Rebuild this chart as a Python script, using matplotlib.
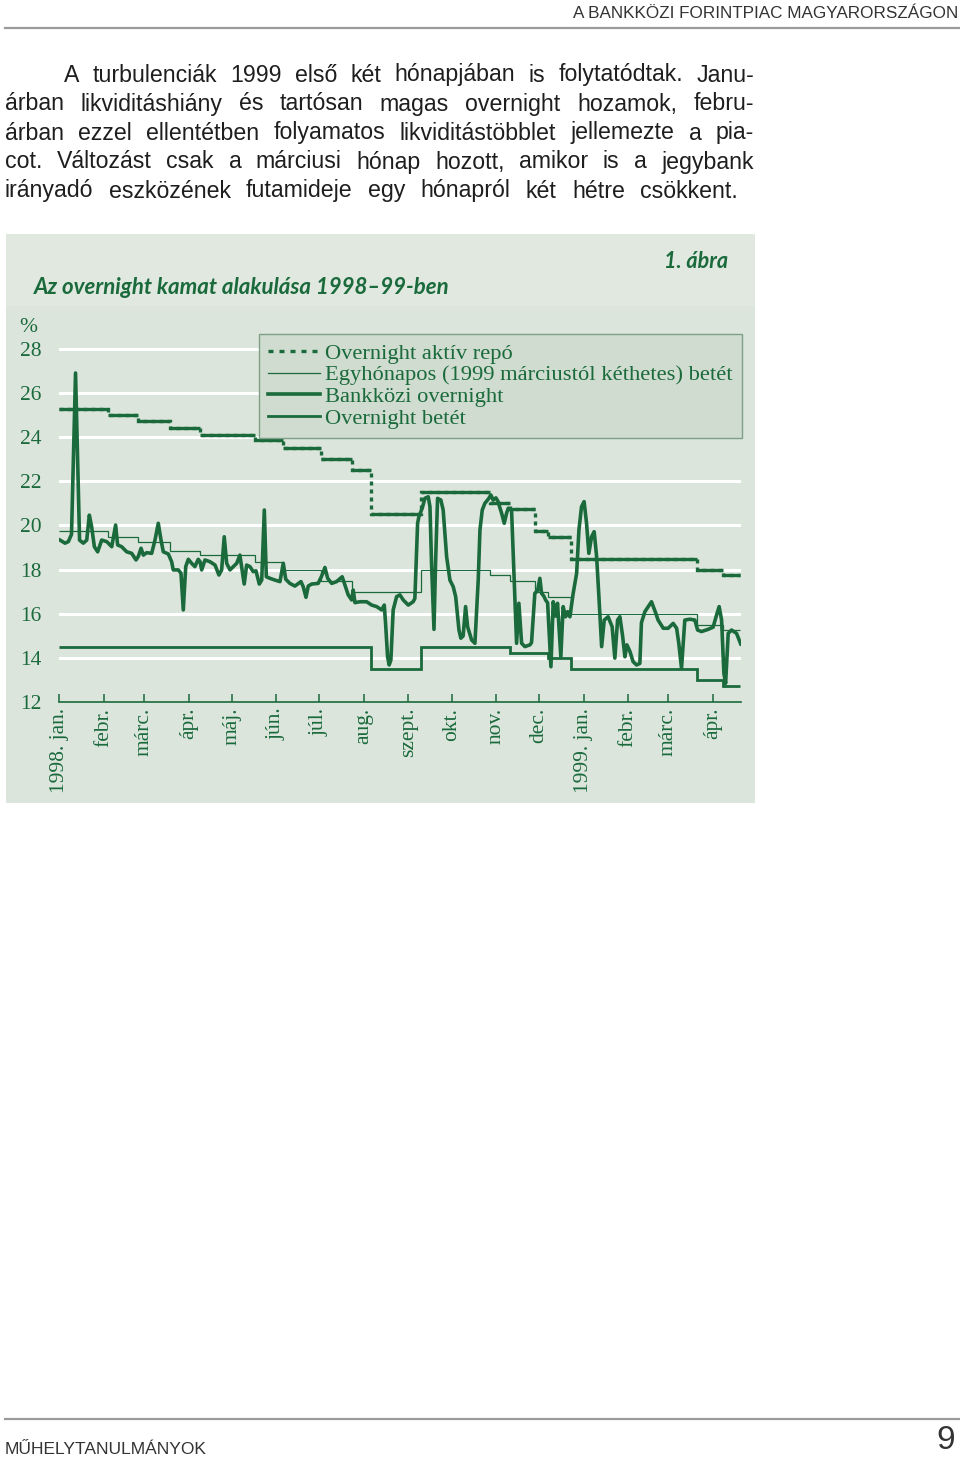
import matplotlib
matplotlib.use('Agg')
import matplotlib.pyplot as plt
from matplotlib import font_manager
from matplotlib.lines import Line2D
from matplotlib.patches import Rectangle

# --- data (days counted from 1998-01-01, rates in %) ---
month_days = [0, 31, 59, 90, 120, 151, 181, 212, 243, 273, 304, 334, 365, 396, 424, 455]
month_labels = ['1998. jan.', 'febr.', 'márc.', 'ápr.', 'máj.', 'jún.', 'júl.', 'aug.',
                'szept.', 'okt.', 'nov.', 'dec.', '1999. jan.', 'febr.', 'márc.', 'ápr.']

repo_edges = [0, 34, 55, 77, 98, 136, 156, 182, 204, 217, 252, 300, 314, 331, 340, 356, 444, 462, 474]
repo_rate = [25.25, 25.0, 24.75, 24.4, 24.1, 23.85, 23.5, 23.0, 22.5, 20.5, 21.5, 21.0,
             20.75, 19.75, 19.5, 18.5, 18.0, 17.75]

depo1m_edges = [0, 34, 55, 77, 98, 136, 156, 182, 204, 252, 300, 314, 331, 340, 356, 444, 462, 474]
depo1m_rate = [19.75, 19.5, 19.25, 18.85, 18.65, 18.35, 18.0, 17.5, 17.0, 18.0, 17.75, 17.5,
               17.0, 16.75, 16.0, 15.5, 15.25]

ondepo_edges = [0, 217, 252, 314, 340, 356, 444, 462, 474]
ondepo_rate = [14.5, 13.5, 14.5, 14.25, 14.0, 13.5, 13.0, 12.75]

bank_day = [0.5, 4.0, 6.3, 8.5, 11.3, 14.1, 16.7, 19.1, 20.9, 22.5, 24.4, 26.7, 29.5, 33.0,
            36.5, 39.2, 40.6, 43.4, 46.9, 50.4, 53.4, 55.0, 56.9, 58.5, 60.8, 64.3, 66.6,
            68.9, 70.8, 72.4, 75.9, 78.2, 79.3, 82.8, 84.7, 86.3, 88.0, 89.8, 92.1, 94.4,
            96.7, 98.0, 99.1, 101.4, 104.9, 108.4, 111.1, 113.0, 114.8, 116.5, 118.8, 121.1,
            123.5, 125.7, 127.6, 128.7, 130.4, 132.7, 135.0, 136.9, 139.2, 140.9, 142.7,
            144.1, 146.6, 150.1, 153.6, 155.9, 157.6, 160.5, 164.0, 168.2, 169.8, 171.7,
            173.3, 175.6, 180.2, 182.6, 184.9, 186.8, 189.6, 193.0, 196.9, 198.8, 201.1,
            203.5, 204.6, 205.8, 209.3, 213.9, 217.4, 220.9, 224.4, 226.2, 227.1, 228.5,
            229.6, 230.8, 232.4, 234.8, 237.1, 239.4, 242.9, 246.3, 247.5, 249.4, 250.3,
            252.6, 254.5, 256.8, 258.0, 259.1, 260.8, 261.9, 263.3, 265.6, 267.2, 269.6,
            271.9, 274.2, 275.9, 278.2, 279.5, 281.1, 282.8, 284.2, 287.0, 289.3, 291.6,
            292.8, 294.4, 296.2, 299.0, 300.4, 302.0, 303.9, 305.3, 307.9, 309.7, 311.3,
            312.5, 314.8, 316.6, 318.3, 319.9, 321.8, 324.1, 327.6, 328.7, 331.0, 332.9,
            334.5, 335.7, 337.3, 338.5, 339.9, 342.2, 343.8, 345.4, 346.8, 349.1, 350.7,
            352.4, 353.8, 355.4, 357.7, 360.1, 361.7, 363.5, 365.3, 367.0, 368.6, 370.5,
            372.3, 374.0, 375.6, 377.5, 379.3, 382.0, 384.8, 386.7, 388.6, 390.2, 392.1,
            393.7, 395.1, 397.2, 399.4, 401.8, 404.1, 405.2, 407.6, 412.2, 415.2, 416.8,
            420.4, 423.8, 427.3, 429.7, 431.2, 433.1, 435.4, 438.9, 442.4, 444.3, 447.0,
            451.6, 455.1, 457.5, 459.3, 461.0, 462.6, 463.8, 465.6, 467.9, 471.4, 474.3]
bank_rate = [19.34, 19.2, 19.27, 19.6, 26.9, 19.34, 19.2, 19.34, 20.47, 19.95, 19.04, 18.81,
             19.34, 19.27, 19.04, 20.02, 19.12, 19.04, 18.81, 18.74, 18.44, 18.6, 18.97,
             18.66, 18.77, 18.74, 19.34, 20.1, 19.34, 18.81, 18.71, 18.36, 17.99, 17.99,
             17.84, 16.18, 18.14, 18.47, 18.29, 18.14, 18.47, 18.36, 17.99, 18.44, 18.36,
             18.21, 17.76, 17.99, 19.49, 18.29, 17.99, 18.14, 18.29, 18.66, 17.84, 17.35,
             18.21, 18.14, 17.91, 17.95, 17.35, 17.53, 20.7, 17.68, 17.61, 17.53, 17.46,
             18.29, 17.57, 17.38, 17.26, 17.46, 17.23, 16.75, 17.26, 17.35, 17.38, 17.71,
             18.1, 17.61, 17.38, 17.46, 17.68, 17.31, 16.86, 16.63, 17.08, 16.51, 16.55,
             16.55, 16.4, 16.33, 16.18, 16.4, 15.57, 14.06, 13.69, 13.91, 16.18, 16.78,
             16.86, 16.63, 16.4, 16.55, 16.7, 20.1, 20.4, 20.78, 21.23, 21.3, 20.85, 18.29,
             15.3, 18.3, 21.23, 21.15, 20.7, 18.59, 17.53, 17.23, 16.78, 15.27, 14.9, 15.0,
             16.33, 15.42, 14.82, 14.67, 17.53, 19.8, 20.7, 21.0, 21.23, 21.38, 21.15, 21.25,
             21.1, 20.55, 20.1, 20.55, 20.78, 20.7, 17.53, 14.67, 16.48, 14.67, 14.52, 14.6,
             14.7, 16.93, 17.05, 17.61, 16.93, 16.8, 16.63, 16.5, 13.61, 16.55, 15.9, 16.48,
             14.06, 16.33, 15.87, 16.1, 15.87, 16.93, 17.84, 19.8, 20.85, 21.08, 20.1, 18.74,
             19.49, 19.72, 18.6, 16.78, 14.52, 15.72, 15.87, 15.42, 14.0, 15.72, 15.87, 15.0,
             14.06, 14.6, 14.3, 13.84, 13.69, 13.76, 15.6, 16.1, 16.55, 16.03, 15.72, 15.35,
             15.35, 15.57, 15.35, 14.67, 13.54, 15.72, 15.76, 15.72, 15.27, 15.2, 15.3, 15.4,
             15.95, 16.33, 15.72, 13.31, 12.86, 15.12, 15.27, 15.12, 14.64]

yticks = [12, 14, 16, 18, 20, 22, 24, 26, 28]
legend_labels = ['Overnight aktív repó', 'Egyhónapos (1999 márciustól kéthetes) betét',
                 'Bankközi overnight', 'Overnight betét']

body_lines = [
    'A turbulenciák 1999 első két hónapjában is folytatódtak. Janu-',
    'árban likviditáshiány és tartósan magas overnight hozamok, febru-',
    'árban ezzel ellentétben folyamatos likviditástöbblet jellemezte a pia-',
    'cot. Változást csak a márciusi hónap hozott, amikor is a jegybank',
    'irányadó eszközének futamideje egy hónapról két hétre csökkent.',
]
line_ends = [754, 754, 754, 754, 738]

GREEN = '#1a6a3c'
BG = '#dce5dc'
W, H = 960, 1458

installed = {f.name for f in font_manager.fontManager.ttflist}
narrow = 'Liberation Sans Narrow' if 'Liberation Sans Narrow' in installed else 'Liberation Sans'
serif = 'Liberation Serif'
titlefont = 'Lato' if 'Lato' in installed else 'DejaVu Sans'


def fx(px):
    return px / W


def fy(py):
    return 1 - py / H


fig = plt.figure(figsize=(W / 100, H / 100), dpi=100)
fig.patch.set_facecolor('white')
renderer = fig.canvas.get_renderer()


def text_width(s, size, family):
    t = fig.text(0, 0, s, fontsize=size, family=family)
    w = t.get_window_extent(renderer).width
    t.remove()
    return w


# header and footer rules
fig.add_artist(Line2D([fx(5), fx(960)], [fy(28), fy(28)], transform=fig.transFigure,
                      color='#9b9b9b', lw=1.6))
fig.add_artist(Line2D([fx(5), fx(960)], [fy(1419), fy(1419)], transform=fig.transFigure,
                      color='#9b9b9b', lw=1.6))
fig.text(fx(958), fy(14), 'A BANKKÖZI FORINTPIAC MAGYARORSZÁGON', ha='right', va='center',
         fontsize=12.3, family=narrow, color='#333333')
fig.text(fx(5), fy(1450), 'MŰHELYTANULMÁNYOK', ha='left', va='center',
         fontsize=12.5, family=narrow, color='#333333')
fig.text(fx(955), fy(1456), '9', ha='right', va='bottom', fontsize=24,
         family=narrow, color='#333333')

# body paragraph, justified word by word; size chosen so the longest line still fits
ref_size = 10
longest = max(text_width(l, ref_size, narrow) + (59 if i == 0 else 0)
              for i, l in enumerate(body_lines[:-1]))
body_size = min(17.5, ref_size * 735 / longest)
for i, line in enumerate(body_lines):
    y = 75 + i * 29
    x0 = 64 if i == 0 else 5
    words = line.split(' ')
    texts = [fig.text(0, fy(y), w, fontsize=body_size, family=narrow, color='#1e1e1e',
                      va='center', ha='left') for w in words]
    widths = [t.get_window_extent(renderer).width for t in texts]
    gap = (line_ends[i] - x0 - sum(widths)) / (len(words) - 1)
    x = x0
    for t, w in zip(texts, widths):
        t.set_x(fx(x))
        x += w + gap

# chart panel
fig.add_artist(Rectangle((fx(6), fy(803)), (755 - 6) / W, (803 - 234) / H,
                         transform=fig.transFigure, facecolor=BG, edgecolor='none', zorder=-5))
fig.add_artist(Rectangle((fx(6), fy(306)), (755 - 6) / W, (306 - 234) / H,
                         transform=fig.transFigure, facecolor='#e0e8e0', edgecolor='none', zorder=-4))
fig.text(fx(34), fy(287), 'Az overnight kamat alakulása 1998–99-ben', ha='left', va='center',
         fontsize=16, family=titlefont, style='italic', weight='bold', color=GREEN)
fig.text(fx(728), fy(261), '1. ábra', ha='right', va='center', fontsize=15.5,
         family=titlefont, style='italic', weight='bold', color=GREEN)
fig.text(fx(19), fy(328), '%', ha='left', va='center', fontsize=15.5, family=serif, color=GREEN)

ax = fig.add_axes([fx(59.3), fy(702.3), (740.7 - 59.3) / W, (702.3 - 331) / H])
ax.set_facecolor('none')
ax.set_xlim(0, 474.3)
ax.set_ylim(12, 28.8)
for v in yticks[1:]:
    ax.axhline(v, color='white', lw=2.2, zorder=1)

ax.stairs(ondepo_rate, ondepo_edges, baseline=None, color=GREEN, lw=2.0, zorder=3)
ax.stairs(depo1m_rate, depo1m_edges, baseline=None, color=GREEN, lw=0.9, zorder=3)
ax.stairs(repo_rate, repo_edges, baseline=None, color=GREEN, lw=2.4,
          linestyle=(0, (1.2, 1.2)), zorder=3)
ax.hlines(repo_rate, repo_edges[:-1], repo_edges[1:], color=GREEN, lw=2.4, zorder=3)
ax.plot(bank_day, bank_rate, color=GREEN, lw=2.6, solid_joinstyle='round', zorder=4)

for s in ['top', 'right', 'left']:
    ax.spines[s].set_visible(False)
ax.spines['bottom'].set_color(GREEN)
ax.spines['bottom'].set_linewidth(1.2)

ax.set_yticks(yticks)
ax.set_yticklabels([str(v) for v in yticks], family=serif, fontsize=15.5, color=GREEN)
ax.tick_params(axis='y', length=0, pad=13)
ax.set_xticks(month_days)
ax.set_xticklabels(month_labels, rotation=90, family=serif, fontsize=15.5, color=GREEN,
                   ha='center', va='top')
ax.tick_params(axis='x', direction='in', length=5.5, width=1.1, color=GREEN, pad=4)

handles = [
    Line2D([], [], color=GREEN, lw=2.4, linestyle=(0, (1.5, 1.8))),
    Line2D([], [], color=GREEN, lw=0.9),
    Line2D([], [], color=GREEN, lw=2.6),
    Line2D([], [], color=GREEN, lw=2.0),
]
leg = fig.legend(handles, legend_labels, loc='upper left',
                 bbox_to_anchor=(fx(259), fy(334)), bbox_transform=fig.transFigure,
                 frameon=True, fancybox=False, framealpha=1, facecolor='#cfdccf',
                 edgecolor='#7fa088', prop={'family': serif, 'size': 16.2},
                 labelcolor=GREEN, handlelength=2.3, handletextpad=0.25,
                 borderpad=0.4, labelspacing=0.04, borderaxespad=0)
leg.get_frame().set_linewidth(1.0)

fig.savefig('out.png', dpi=100, facecolor='white')
